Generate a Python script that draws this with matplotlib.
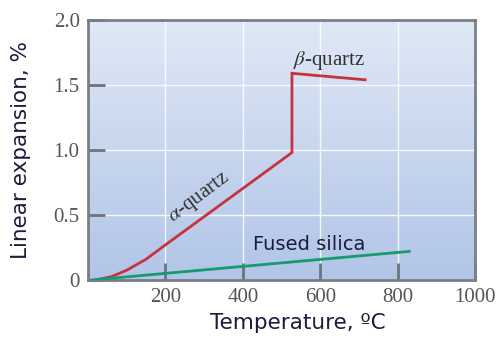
import numpy as np
import matplotlib
matplotlib.use("Agg")
from matplotlib import pyplot as plt
from matplotlib.colors import LinearSegmentedColormap

# values
quartz_T = [20, 60, 100, 150, 200, 300, 400, 527, 527, 716]
quartz_L = [0, 0.025, 0.075, 0.16, 0.27, 0.487, 0.704, 0.98, 1.59, 1.54]
fused_T = [10, 830]
fused_L = [0, 0.22]

x_ticks = [200, 400, 600, 800, 1000]
x_labels = ["200", "400", "600", "800", "1000"]
y_ticks = [0, 0.5, 1.0, 1.5, 2.0]
y_labels = ["0", "0.5", "1.0", "1.5", "2.0"]

plt.rcParams["mathtext.fontset"] = "stix"

fig = plt.figure(figsize=(4.98, 3.37), dpi=100)
ax = fig.add_axes([88 / 498, 57 / 337, 387 / 498, 260 / 337])
ax.set_xlim(0, 1000)
ax.set_ylim(0, 2.0)

# blue gradient background
cmap = LinearSegmentedColormap.from_list("bg", ["#b1c5e7", "#dfe8f6"])
grad = np.linspace(0, 1, 256).reshape(-1, 1)
ax.imshow(grad, cmap=cmap, origin="lower", aspect="auto",
          extent=[0, 1000, 0, 2.0], zorder=0)

for gx in [200, 400, 600, 800]:
    ax.axvline(gx, color="white", lw=1.0, alpha=0.85, zorder=1)
for gy in [0.5, 1.0, 1.5]:
    ax.axhline(gy, color="white", lw=1.0, alpha=0.85, zorder=1)

ax.plot(quartz_T, quartz_L, color="#c8323f", lw=2, zorder=3,
        solid_joinstyle="miter")
ax.plot(fused_T, fused_L, color="#179a6e", lw=2, zorder=3)

ax.text(289, 0.63, r"$\alpha$-quartz", rotation=37, ha="center", va="center",
        family="Liberation Serif", fontsize=15, color="#333333", zorder=4)
ax.text(623, 1.69, r"$\beta$-quartz", ha="center", va="center",
        family="Liberation Serif", fontsize=15, color="#333333", zorder=4)
ax.text(426, 0.275, "Fused silica", ha="left", va="center",
        fontsize=14, color="#1c1c3c", zorder=4)

ax.set_xticks(x_ticks)
ax.set_xticklabels(x_labels, family="Liberation Serif", fontsize=15, color="#555555")
ax.set_yticks(y_ticks)
ax.set_yticklabels(y_labels, family="Liberation Serif", fontsize=15, color="#555555")
ax.tick_params(direction="in", length=12, width=2, color="#6f737c", pad=6)

for s in ax.spines.values():
    s.set_color("#7a7e88")
    s.set_linewidth(2)

ax.set_xlabel("Temperature, ºC", fontsize=15.5, color="#1c1c3c")
ax.xaxis.set_label_coords((298 - 88) / 387, -33 / 260)
ax.set_ylabel("Linear expansion, %", fontsize=15.5, color="#1c1c3c")
ax.yaxis.set_label_coords(-57 / 387, 0.5)

fig.savefig("out.png", dpi=100)
